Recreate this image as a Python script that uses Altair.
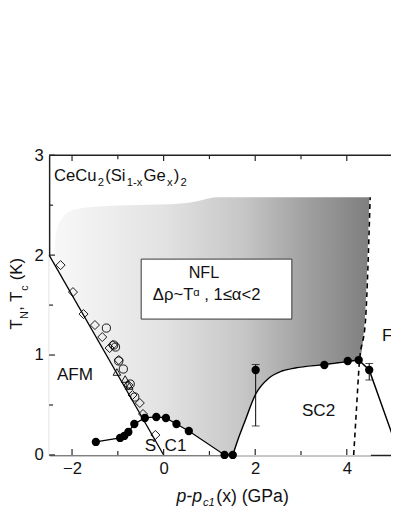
import altair as alt
import pandas as pd

FONT = "Arial, Liberation Sans, Helvetica, sans-serif"

# ---------------- data ----------------
# open symbols (T_N, AFM boundary)
diamond_x = [-2.25, -1.98, -1.75, -1.50, -1.34, -1.18, -1.11, -0.98, -0.77, -0.68, -0.52, -0.45, -0.18]
diamond_y = [1.90, 1.63, 1.41, 1.30, 1.18, 1.07, 1.10, 0.95, 0.70, 0.60, 0.52, 0.41, 0.20]
circle_x = [-1.25, -1.09, -1.05, -0.98, -0.88, -0.73, -0.63]
circle_y = [1.27, 1.10, 1.08, 0.94, 0.86, 0.71, 0.58]
triangle_x = [-1.02, -0.84, -0.75]
triangle_y = [0.83, 0.76, 0.69]

# AFM guide line
afm_x = [-2.5, 0.0]
afm_y = [2.0, 0.0]

# filled symbols (T_c)
sc1_x = [-1.48, -0.95, -0.86, -0.77, -0.64, -0.41, -0.16, 0.05, 0.28, 0.55, 1.33, 1.51]
sc1_y = [0.13, 0.17, 0.19, 0.23, 0.31, 0.37, 0.38, 0.37, 0.31, 0.24, 0.0, 0.0]
sc2_x = [2.01, 3.51, 4.02, 4.26, 4.49]
sc2_y = [0.85, 0.90, 0.94, 0.95, 0.85]

# error bars
err_x = [2.01, 4.49]
err_lo = [0.29, 0.75]
err_hi = [0.905, 0.915]

# SC2 guide curve (smooth rise) and straight drop on the right
sc2c_x = [1.51, 1.62, 1.76, 2.01, 2.30, 2.58, 2.87, 3.51, 4.02, 4.26]
sc2c_y = [0.0, 0.15, 0.32, 0.61, 0.77, 0.84, 0.87, 0.905, 0.935, 0.95]
drop_x = [4.26, 4.49, 5.15]
drop_y = [0.95, 0.85, 0.0]

# dashed line
dash_x = [4.15, 4.21, 4.27, 4.41, 4.51]
dash_y = [0.0, 0.45, 0.90, 1.36, 2.58]

# shaded NFL region: upper edge, and lower edge (two parts)
top_x = [-2.40, -2.37, -2.30, -2.20, -2.05, -1.63, -0.80, 0.15, 0.73, 1.00, 1.16, 1.40, 4.51]
top_y = [2.00, 2.15, 2.30, 2.38, 2.44, 2.48, 2.50, 2.51, 2.54, 2.57, 2.58, 2.58, 2.58]
lowA_x = [-2.5, -0.45, -0.41, -0.16, 0.05, 0.28, 0.55, 1.33, 1.51]
lowA_y = [2.0, 0.36, 0.37, 0.38, 0.37, 0.31, 0.24, 0.0, 0.0]
lowB_x = [1.51, 1.62, 1.76, 2.01, 2.30, 2.58, 2.87, 3.51, 4.02, 4.28, 4.41, 4.51]
lowB_y = [0.0, 0.15, 0.32, 0.61, 0.77, 0.84, 0.87, 0.905, 0.935, 0.95, 1.36, 2.58]

# NFL box
box_x = [-0.49]
box_x2 = [2.80]
box_y = [1.36]
box_y2 = [1.96]

# labels
lab_text = ["AFM", "S", "C1", "SC2", "F"]
lab_x = [-2.33, -0.41, 0.02, 3.02, 4.77]
lab_y = [0.755, 0.04, 0.04, 0.39, 1.14]
nfl_text = ["NFL", "\u0394\u03c1~T\u1d45 , 1\u2264\u03b1<2"]
nfl_x = [0.88, 0.94]
nfl_y = [1.775, 1.555]

# compound formula pieces (text, is_subscript)
comp_parts = ["CeCu", "2", "(Si", "1-x", "Ge", "x", ")", "2"]
comp_sub = [0, 1, 0, 1, 0, 1, 0, 1]

# axis ticks
x_major = [-2, 0, 2, 4]
x_minor = [-1, 1, 3]
y_major = [0, 1, 2, 3]
y_minor = [0.5, 1.5, 2.5]

# axis title pieces (text, is_subscript)
ytitle_parts = ["T", "N", ", T", "c", " (K)"]
ytitle_sub = [0, 1, 0, 1, 0]
xtitle_parts = ["p-p", "c1", "(x) (GPa)"]
xtitle_sub = [0, 1, 0]

# ---------------- layout helpers ----------------
EM = {"C": .722, "e": .556, "u": .556, "(": .333, ")": .333, "S": .667, "i": .222, "G": .778,
      "1": .556, "2": .556, "-": .333, "x": .5, "T": .611, "N": .722, ",": .278, " ": .278,
      "c": .5, "K": .667, "p": .556, "P": .667, "a": .556}


def tw(s, fs):
    return sum(EM.get(ch, .556) for ch in s) * fs


W, H = 349, 306
X_END = -2.5 + W / 46.75
xs = alt.Scale(domain=[-2.5, X_END], nice=False, zero=False)
ys = alt.Scale(domain=[0, 3], nice=False, zero=False)
AX = alt.Axis(values=x_major, ticks=False, domain=True, domainColor="#222", domainWidth=1.5,
              grid=False, title=None,
              labelFontSize=17, labelPadding=6, labelFont=FONT, labelColor="#111")
AY = alt.Axis(values=y_major, ticks=False, domain=True, domainColor="#222", domainWidth=1.5,
              grid=False, title=None,
              labelFontSize=17, labelPadding=6, labelFont=FONT, labelColor="#111")


def X(f="x"):
    return alt.X(f + ":Q", scale=xs, axis=AX)


def Y(f="y"):
    return alt.Y(f + ":Q", scale=ys, axis=AY)


def df(xv, yv, **extra):
    d = {"x": xv, "y": yv}
    d.update(extra)
    return pd.DataFrame(d)


grad = alt.Gradient(
    gradient="linear",
    stops=[
        alt.GradientStop(color="#f8f8f8", offset=0),
        alt.GradientStop(color="#e2e2e2", offset=0.35),
        alt.GradientStop(color="#c6c6c6", offset=0.6),
        alt.GradientStop(color="#a0a0a0", offset=0.8),
        alt.GradientStop(color="#7e7e7e", offset=1),
    ],
    x1=0, x2=1, y1=0, y2=0,
)

layers = []
layers.append(alt.Chart(df(top_x, top_y)).mark_area(color=grad, interpolate="monotone")
              .encode(x=X(), y=Y(), y2=alt.datum(0)))
layers.append(alt.Chart(df(lowA_x, lowA_y)).mark_area(color="white", stroke="white", strokeWidth=1,
                                                      interpolate="linear")
              .encode(x=X(), y=Y(), y2=alt.datum(0)))
layers.append(alt.Chart(df(lowB_x, lowB_y)).mark_area(color="white", stroke="white", strokeWidth=1.5,
                                                      interpolate="monotone")
              .encode(x=X(), y=Y(), y2=alt.datum(0)))

# NFL box
layers.append(alt.Chart(pd.DataFrame({"x": box_x, "x2": box_x2, "y": box_y, "y2": box_y2}))
              .mark_rect(fill="white", stroke="#333", strokeWidth=1)
              .encode(x=X(), x2="x2:Q", y=Y(), y2="y2:Q"))

# lines
layers.append(alt.Chart(df(afm_x, afm_y)).mark_line(color="black", strokeWidth=1.3)
              .encode(x=X(), y=Y()))
layers.append(alt.Chart(df(sc1_x, sc1_y)).mark_line(color="black", strokeWidth=1.3)
              .encode(x=X(), y=Y()))
layers.append(alt.Chart(df(sc2c_x, sc2c_y)).mark_line(color="black", strokeWidth=1.5,
                                                     interpolate="monotone")
              .encode(x=X(), y=Y()))
layers.append(alt.Chart(df(drop_x, drop_y)).mark_line(color="black", strokeWidth=1.5, clip=True)
              .encode(x=X(), y=Y()))
layers.append(alt.Chart(df(dash_x, dash_y)).mark_line(color="black", strokeWidth=1.6,
                                                     strokeDash=[5, 4], interpolate="monotone")
              .encode(x=X(), y=Y()))

# error bars
err = pd.DataFrame({"x": err_x, "y": err_lo, "y2": err_hi})
layers.append(alt.Chart(err).mark_rule(color="black", strokeWidth=1)
              .encode(x=X(), y=Y(), y2="y2:Q"))
layers.append(alt.Chart(df(err_x + err_x, err_lo + err_hi))
              .mark_tick(orient="horizontal", size=8, thickness=1, color="black")
              .encode(x=X(), y=Y()))

# open symbols
layers.append(alt.Chart(df(diamond_x, diamond_y)).mark_point(shape="diamond", filled=False, size=85,
                                                             stroke="black", strokeWidth=0.9, opacity=1)
              .encode(x=X(), y=Y()))
layers.append(alt.Chart(df(circle_x, circle_y)).mark_point(shape="circle", filled=False, size=70,
                                                           stroke="black", strokeWidth=0.9, opacity=1)
              .encode(x=X(), y=Y()))
layers.append(alt.Chart(df(triangle_x, triangle_y)).mark_point(shape="triangle-up", filled=False, size=60,
                                                               stroke="black", strokeWidth=0.9, opacity=1)
              .encode(x=X(), y=Y()))

# filled symbols
layers.append(alt.Chart(df(sc1_x + sc2_x, sc1_y + sc2_y)).mark_point(shape="circle", filled=True, size=72,
                                                                      color="black", opacity=1)
              .encode(x=X(), y=Y()))

# labels
layers.append(alt.Chart(df(lab_x, lab_y, t=lab_text)).mark_text(align="left", baseline="alphabetic",
                                                                fontSize=17.5, font=FONT, color="#111")
              .encode(x=X(), y=Y(), text="t:N"))
nfl = df(nfl_x, nfl_y, t=nfl_text)
layers.append(alt.Chart(nfl.iloc[[0]]).mark_text(align="center", baseline="alphabetic",
                                                 fontSize=16.5, font=FONT, color="#111")
              .encode(x=X(), y=Y(), text="t:N"))
layers.append(alt.Chart(nfl.iloc[[1]]).mark_text(align="center", baseline="alphabetic",
                                                 fontSize=17, font=FONT, color="#111")
              .encode(x=X(), y=Y(), text="t:N"))


def pieces(parts, subs, x0, base, fs_main, fs_sub, drop, angle=0, style="normal", gap=0.0):
    out = []
    pos = x0
    sign = 1 if angle == 0 else -1
    for txt, sb in zip(parts, subs):
        fs = fs_sub if sb else fs_main
        b = base + (drop if sb else 0)
        lead = len(txt) - len(txt.lstrip(" "))
        if lead:
            pos += sign * tw(" " * lead, fs)
            txt = txt.lstrip(" ")
        xv, yv = (pos, b) if angle == 0 else (b, pos)
        mk = dict(align="left", baseline="alphabetic", fontSize=fs, font=FONT, color="#111")
        if angle:
            mk["angle"] = angle
        if style != "normal":
            mk["fontStyle"] = style
        out.append(alt.Chart(pd.DataFrame({"t": [txt]})).mark_text(**mk)
                   .encode(x=alt.value(xv), y=alt.value(yv), text="t:N"))
        pos += sign * (tw(txt, fs) + gap)
    return out


# compound formula (top-left)
layers += pieces(comp_parts, comp_sub, 5, 26.5, 17, 11.5, 5, gap=1.2)

# top frame line
layers.append(alt.Chart(pd.DataFrame({"t": [0]})).mark_rule(color="#222", strokeWidth=1.5)
              .encode(x=alt.value(0), x2=alt.value(W), y=alt.value(0)))


# inward ticks
def xticks(vals, length):
    d = pd.DataFrame({"x": vals})
    bot = alt.Chart(d).mark_rule(color="#222", strokeWidth=1.2).encode(
        x=X(), y=alt.value(H), y2=alt.value(H - length))
    top = alt.Chart(d).mark_rule(color="#222", strokeWidth=1.2).encode(
        x=X(), y=alt.value(0), y2=alt.value(length))
    return [bot, top]


def yticks(vals, length):
    d = pd.DataFrame({"y": vals})
    return [alt.Chart(d).mark_rule(color="#222", strokeWidth=1.2).encode(
        y=Y(), x=alt.value(0), x2=alt.value(length))]


layers += xticks(x_major, 6) + xticks(x_minor, 4) + yticks(y_major, 6) + yticks(y_minor, 4)

# y-axis title (rotated, reading upwards)
layers += pieces(ytitle_parts, ytitle_sub, 178, -27.5, 17, 11, 6, angle=270, gap=0.5)

# x-axis title
x_title = []
pos = 130
for txt, sb in zip(xtitle_parts, xtitle_sub):
    fs = 11.5 if sb else 18
    sty = "italic" if txt in ("p-p", "c1") else "normal"
    mk = dict(align="left", baseline="alphabetic", fontSize=fs, font=FONT, color="#111", fontStyle=sty)
    x_title.append(alt.Chart(pd.DataFrame({"t": [txt]})).mark_text(**mk)
                   .encode(x=alt.value(pos), y=alt.value(354 + (4 if sb else 0)), text="t:N"))
    pos += tw(txt, fs) + (1.5 if sb else 1)
layers += x_title

chart = alt.layer(*layers).properties(
    width=W, height=H,
    autosize=alt.AutoSizeParams(type="none"),
    padding={"left": 42, "top": 145, "right": 0, "bottom": 55},
).configure_view(stroke=None)

chart.save("out.html", embed_options={"renderer": "svg", "actions": False})
